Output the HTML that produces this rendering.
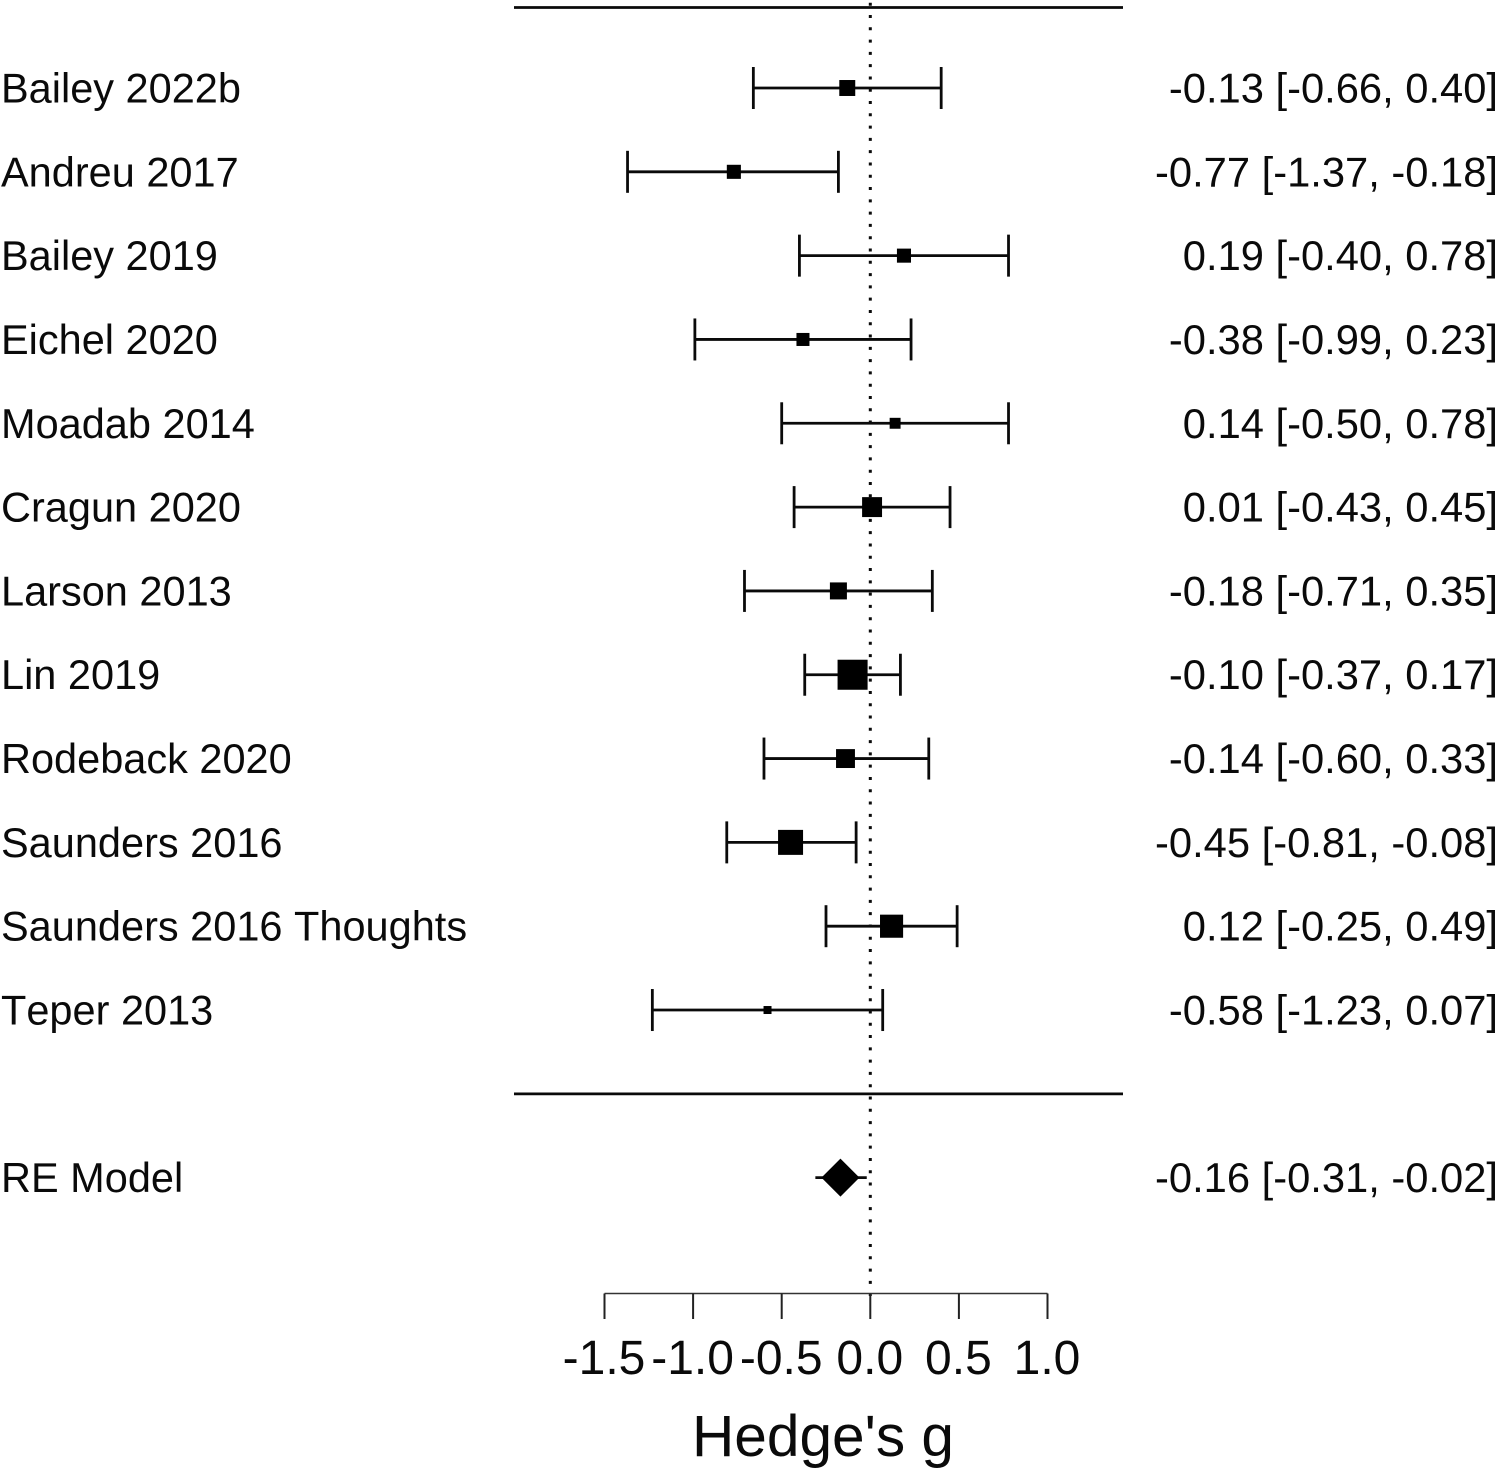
<!DOCTYPE html>
<html lang="en">
<head>
<meta charset="utf-8">
<title>Forest plot of Hedge's g</title>
<style>
html,body{margin:0;padding:0;background:#fff;}
body{width:1499px;height:1480px;overflow:hidden;}
svg{display:block;}
text{font-family:"Liberation Sans",Arial,sans-serif;fill:#0a0a0a;font-kerning:none;}
</style>
</head>
<body>
<svg id="forest" xmlns="http://www.w3.org/2000/svg" width="1499" height="1480" viewBox="0 0 1499 1480"></svg>
<script>
const studies = ["Bailey 2022b","Andreu 2017","Bailey 2019","Eichel 2020","Moadab 2014","Cragun 2020","Larson 2013","Lin 2019","Rodeback 2020","Saunders 2016","Saunders 2016 Thoughts","Teper 2013"];
const effects = [-0.13,-0.77,0.19,-0.38,0.14,0.01,-0.18,-0.10,-0.14,-0.45,0.12,-0.58];
const ciLower = [-0.66,-1.37,-0.40,-0.99,-0.50,-0.43,-0.71,-0.37,-0.60,-0.81,-0.25,-1.23];
const ciUpper = [0.40,-0.18,0.78,0.23,0.78,0.45,0.35,0.17,0.33,-0.08,0.49,0.07];
const weights = [7.6,6.7,6.7,6.2,5.2,9.5,8.1,14.3,9.0,11.9,11.0,3.8];
const modelLabel = "RE Model";
const modelEffect = -0.16;
const modelLower = -0.31;
const modelUpper = -0.02;
const xTicks = [-1.5,-1.0,-0.5,0.0,0.5,1.0];
const xTitle = "Hedge's g";

const svg = document.getElementById('forest');
const NS = 'http://www.w3.org/2000/svg';
const xAt = v => 870.3 + 177.2 * v;
const yAt = row => 88 + 83.82 * row;
const sizeOf = w => 2.1 * w;
const fmt = v => v.toFixed(2);
const printed = (e, l, u) => fmt(e) + ' [' + fmt(l) + ', ' + fmt(u) + ']';

function make(tag, attrs, parent) {
  const el = document.createElementNS(NS, tag);
  for (const k in attrs) el.setAttribute(k, attrs[k]);
  (parent || svg).appendChild(el);
  return el;
}
function hLine(x1, x2, y, w, parent) {
  return make('line', {x1: x1, x2: x2, y1: y, y2: y, stroke: '#0a0a0a', 'stroke-width': w}, parent);
}
function vLine(x, y1, y2, w, parent) {
  return make('line', {x1: x, x2: x, y1: y1, y2: y2, stroke: '#0a0a0a', 'stroke-width': w}, parent);
}
function label(x, y, size, anchor, str, parent) {
  const t = make('text', {x: x, y: y, 'font-size': size, 'text-anchor': anchor}, parent);
  t.textContent = str;
  return t;
}

/* reference line */
const refLine = make('line', {x1: xAt(0), x2: xAt(0), y1: 2.7, y2: 1296, stroke: '#0a0a0a', 'stroke-width': 3, 'stroke-dasharray': '3 9.29'});



/* horizontal rules */
const topRule = hLine(514, 1123, 7.5, 2.8);


const bottomRule = hLine(514, 1123, yAt(12), 2.8);



/* study rows */
studies.forEach(function (name, i) {
  const y = yAt(i);
  const g = make('g', {});
  
  

  const nameText = label(1, y + 14.5, 41.5, 'start', name, g);
  
  

  const ci = hLine(xAt(ciLower[i]), xAt(ciUpper[i]), y, 2.8, g);
  
  

  const capL = vLine(xAt(ciLower[i]), y - 21, y + 21, 2.8, g);
  
  

  const capU = vLine(xAt(ciUpper[i]), y - 21, y + 21, 2.8, g);
  
  

  const s = sizeOf(weights[i]);
  const box = make('rect', {x: xAt(effects[i]) - s / 2, y: y - s / 2, width: s, height: s, fill: '#000'}, g);
  
  

  const val = label(1498, y + 14.5, 41.7, 'end', printed(effects[i], ciLower[i], ciUpper[i]), g);
  
  
});

/* summary row */
const yModel = yAt(13);
const modelName = label(1, yModel + 14.5, 41.5, 'start', modelLabel);


const modelCi = hLine(xAt(modelLower), xAt(modelUpper), yModel, 2.8);


const mx = xAt(modelEffect) - 1.5;
const diamond = make('polygon', {points: (mx - 19) + ',' + yModel + ' ' + mx + ',' + (yModel - 19) + ' ' + (mx + 19) + ',' + yModel + ' ' + mx + ',' + (yModel + 19), fill: '#000'});


const modelVal = label(1498, yModel + 14.5, 41.7, 'end', printed(modelEffect, modelLower, modelUpper));



/* x axis */
const axisY = 1293.5;
const axis = hLine(xAt(xTicks[0]), xAt(xTicks[xTicks.length - 1]), axisY, 1.6);
axis.setAttribute('stroke', '#333');


xTicks.forEach(function (v) {
  const tick = vLine(xAt(v), axisY, 1319, 2);
  tick.setAttribute('stroke', '#222');
  
  
  const tl = label(xAt(v) - 0.5, 1374, 48, 'middle', v.toFixed(1));
  
  
});
const title = label(823, 1456, 58.6, 'middle', xTitle);


</script>
</body>
</html>
